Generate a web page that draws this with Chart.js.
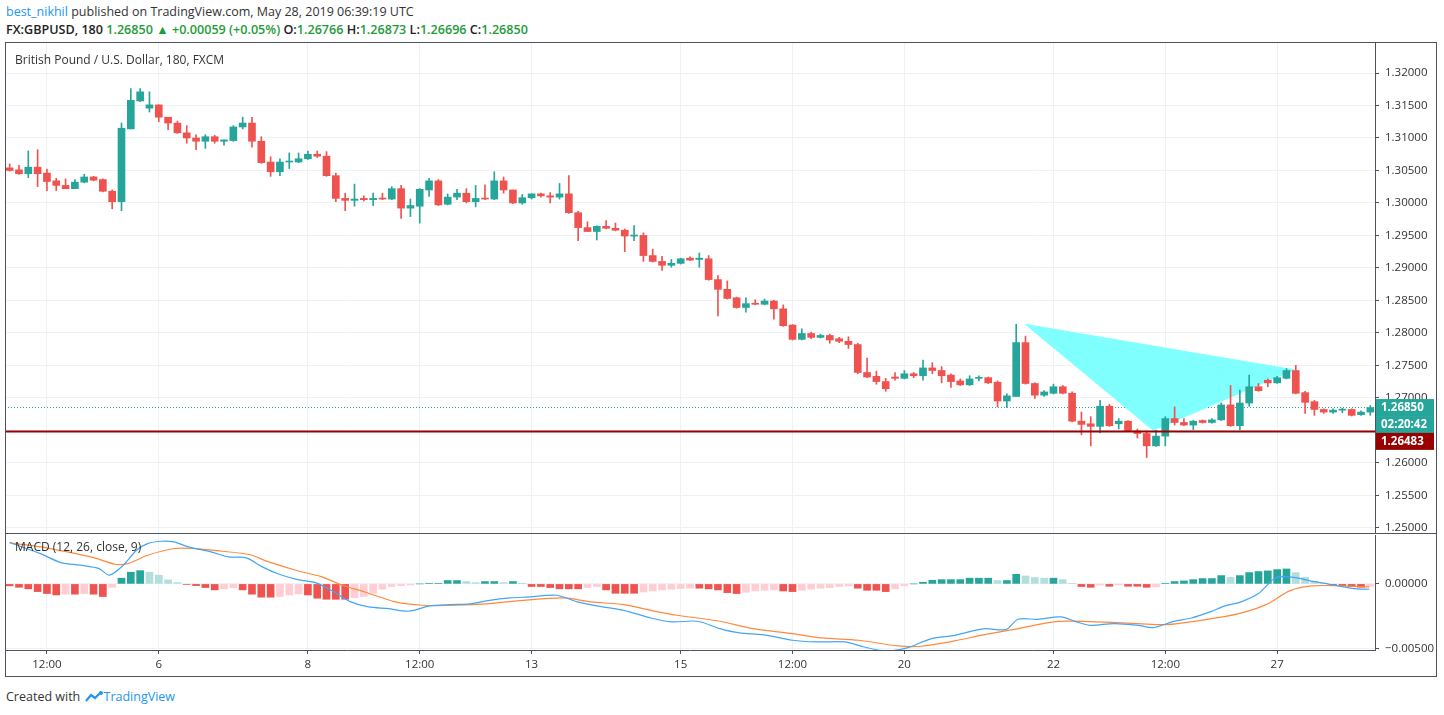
<!DOCTYPE html>
<html>
<head>
<meta charset="utf-8">
<script src="https://cdn.jsdelivr.net/npm/chart.js@4.4.1/dist/chart.umd.min.js"></script>
<style>
  body { margin: 0; width: 1444px; height: 715px; background: #fff; font-family: "Open Sans", Arial, sans-serif; position: relative; overflow: hidden; }
  #head1 { position: absolute; left: 6px; top: 3px; font-size: 12.5px; color: #333; }
  #head1 b { color: #2196f3; font-weight: normal; }
  #head2 { position: absolute; left: 6px; top: 21px; font-size: 12.6px; color: #222; font-weight: 600; }
  #head2 .g { color: #1e9c3a; }
  #frame { position: absolute; left: 5px; top: 42px; width: 1432px; height: 635px; border: 1px solid #50535e; box-sizing: border-box; }
  #sep { position: absolute; left: 5px; top: 533px; width: 1432px; height: 1px; background: #50535e; }
  #main { position: absolute; left: 5px; top: 42px; }
  #macd { position: absolute; left: 5px; top: 535px; }
  #foot { position: absolute; left: 6px; top: 688px; font-size: 12.5px; color: #333; }
  #foot span { color: #2196f3; }
</style>
</head>
<body>
<div id="head1"><b>best_nikhil</b> published on TradingView.com, May 28, 2019 06:39:19 UTC</div>
<div id="head2">FX:GBPUSD, 180 <span class="g">1.26850 ▲ +0.00059 (+0.05%)</span> O:<span class="g">1.26766</span> H:<span class="g">1.26873</span> L:<span class="g">1.26696</span> C:<span class="g">1.26850</span></div>
<canvas id="main" width="1433" height="492"></canvas>
<canvas id="macd" width="1433" height="143"></canvas>
<div id="frame"></div>
<div id="sep"></div>
<div id="foot">Created with <svg width="20" height="12" viewBox="0 0 20 12" style="vertical-align:-1px"><path d="M2 11 L7 5 L11 8 L17 2" stroke="#2196f3" stroke-width="2.2" fill="none"/><circle cx="17" cy="3" r="2" fill="#2196f3"/></svg><span>TradingView</span></div>
<script>
// 3h candles, GBPUSD
const opens = [
  1.3054,1.3051,1.3045,1.3055,1.3046,1.3034,1.3027,1.3022,1.3032,1.3040,
  1.3036,1.3018,1.3002,1.3114,1.3157,1.3146,1.3151,1.3132,1.3123,1.3108,
  1.3100,1.3095,1.3102,1.3095,1.3096,1.3117,1.3123,1.3095,1.3063,1.3048,
  1.3063,1.3063,1.3068,1.3075,1.3072,1.3042,1.3007,1.3004,1.3007,1.3005,
  1.3007,1.3006,1.3022,1.2992,1.2995,1.3020,1.3034,1.2998,1.3009,1.3015,
  1.3002,1.3007,1.3006,1.3034,1.3020,1.3000,1.3008,1.3014,1.3011,1.3009,
  1.3014,1.2985,1.2962,1.2956,1.2964,1.2961,1.2958,1.2949,1.2950,1.2919,
  1.2910,1.2904,1.2907,1.2915,1.2913,1.2914,1.2882,1.2867,1.2854,1.2839,
  1.2845,1.2844,1.2849,1.2837,1.2812,1.2790,1.2799,1.2793,1.2796,1.2791,
  1.2787,1.2782,1.2739,1.2733,1.2725,1.2732,1.2730,1.2737,1.2734,1.2746,
  1.2742,1.2735,1.2726,1.2720,1.2730,1.2731,1.2724,1.2695,1.2702,1.2785,
  1.2722,1.2704,1.2707,1.2717,1.2707,1.2664,1.2660,1.2656,1.2687,1.2660,
  1.2664,1.2649,1.2645,1.2626,1.2641,1.2668,1.2662,1.2658,1.2665,1.2662,
  1.2666,1.2689,1.2657,1.2692,1.2717,1.2727,1.2723,1.2730,1.2742,1.2708,
  1.2694,1.2682,1.2678,1.2681,1.2682,1.2674,1.2678
];
const highs = [
  1.3060,1.3058,1.3080,1.3082,1.3052,1.3038,1.3037,1.3036,1.3044,1.3041,
  1.3037,1.3020,1.3123,1.3176,1.3176,1.3171,1.3151,1.3132,1.3126,1.3119,
  1.3105,1.3105,1.3104,1.3097,1.3119,1.3132,1.3132,1.3102,1.3071,1.3068,
  1.3077,1.3077,1.3080,1.3080,1.3079,1.3046,1.3015,1.3029,1.3011,1.3015,
  1.3015,1.3025,1.3027,1.3006,1.3022,1.3038,1.3036,1.3014,1.3021,1.3022,
  1.3027,1.3028,1.3048,1.3040,1.3020,1.3013,1.3014,1.3015,1.3016,1.3030,
  1.3042,1.2987,1.2971,1.2965,1.2973,1.2969,1.2960,1.2965,1.2954,1.2929,
  1.2918,1.2913,1.2915,1.2917,1.2923,1.2919,1.2888,1.2880,1.2855,1.2854,
  1.2851,1.2852,1.2850,1.2843,1.2813,1.2806,1.2801,1.2798,1.2798,1.2793,
  1.2794,1.2784,1.2761,1.2741,1.2730,1.2739,1.2742,1.2739,1.2758,1.2754,
  1.2748,1.2737,1.2729,1.2734,1.2734,1.2732,1.2726,1.2706,1.2813,1.2795,
  1.2723,1.2711,1.2721,1.2719,1.2709,1.2678,1.2671,1.2696,1.2690,1.2668,
  1.2665,1.2652,1.2647,1.2650,1.2671,1.2686,1.2668,1.2665,1.2666,1.2668,
  1.2692,1.2719,1.2712,1.2735,1.2722,1.2729,1.2733,1.2745,1.2750,1.2710,
  1.2696,1.2683,1.2683,1.2684,1.2683,1.2680,1.2688
];
const lows = [
  1.3049,1.3044,1.3039,1.3025,1.3019,1.3019,1.3022,1.3022,1.3031,1.3034,
  1.3017,1.2991,1.2988,1.3114,1.3156,1.3140,1.3125,1.3113,1.3107,1.3092,
  1.3082,1.3084,1.3092,1.3089,1.3095,1.3114,1.3086,1.3061,1.3041,1.3042,
  1.3053,1.3062,1.3067,1.3070,1.3041,1.3002,1.2988,1.2995,1.3003,1.2996,
  1.3005,1.3005,1.2976,1.2979,1.2969,1.3010,1.2996,1.2997,1.3005,1.3000,
  1.2994,1.3005,1.3005,1.3015,1.2999,1.2998,1.3006,1.3009,1.3000,1.3006,
  1.2984,1.2942,1.2956,1.2943,1.2960,1.2957,1.2925,1.2942,1.2910,1.2909,
  1.2896,1.2901,1.2906,1.2911,1.2901,1.2881,1.2826,1.2852,1.2838,1.2832,
  1.2843,1.2843,1.2821,1.2810,1.2789,1.2789,1.2791,1.2792,1.2784,1.2785,
  1.2776,1.2737,1.2731,1.2721,1.2710,1.2727,1.2729,1.2731,1.2727,1.2737,
  1.2723,1.2716,1.2719,1.2719,1.2726,1.2722,1.2686,1.2685,1.2702,1.2721,
  1.2699,1.2702,1.2706,1.2706,1.2663,1.2643,1.2626,1.2646,1.2656,1.2652,
  1.2648,1.2638,1.2608,1.2625,1.2626,1.2658,1.2657,1.2651,1.2661,1.2661,
  1.2665,1.2656,1.2651,1.2687,1.2710,1.2717,1.2722,1.2729,1.2706,1.2676,
  1.2673,1.2676,1.2676,1.2677,1.2672,1.2673,1.2673
];
const closes = [
  1.3050,1.3045,1.3055,1.3045,1.3033,1.3027,1.3022,1.3032,1.3040,1.3035,
  1.3018,1.3002,1.3115,1.3158,1.3171,1.3151,1.3132,1.3123,1.3108,1.3100,
  1.3095,1.3102,1.3095,1.3097,1.3117,1.3123,1.3095,1.3062,1.3048,1.3063,
  1.3064,1.3068,1.3075,1.3072,1.3042,1.3007,1.3004,1.3006,1.3005,1.3007,
  1.3006,1.3022,1.2992,1.2996,1.3021,1.3034,1.2997,1.3009,1.3015,1.3002,
  1.3007,1.3006,1.3034,1.3020,1.3000,1.3008,1.3014,1.3011,1.3009,1.3014,
  1.2985,1.2962,1.2956,1.2964,1.2961,1.2958,1.2949,1.2950,1.2919,1.2910,
  1.2904,1.2907,1.2914,1.2912,1.2915,1.2882,1.2867,1.2853,1.2839,1.2845,
  1.2844,1.2849,1.2837,1.2811,1.2790,1.2799,1.2793,1.2796,1.2789,1.2787,
  1.2782,1.2739,1.2732,1.2725,1.2714,1.2730,1.2737,1.2734,1.2746,1.2742,
  1.2734,1.2725,1.2720,1.2729,1.2731,1.2723,1.2695,1.2703,1.2785,1.2722,
  1.2704,1.2709,1.2717,1.2707,1.2664,1.2659,1.2656,1.2687,1.2657,1.2664,
  1.2649,1.2645,1.2626,1.2641,1.2668,1.2662,1.2658,1.2664,1.2662,1.2666,
  1.2689,1.2657,1.2692,1.2717,1.2711,1.2723,1.2731,1.2742,1.2707,1.2693,
  1.2682,1.2678,1.2681,1.2682,1.2673,1.2678,1.2685
];

// time axis labels at candle index
const tickIdx = [4, 16, 32, 44, 56, 72, 84, 96, 112, 124, 136];
const tickLabels = ["12:00", "6", "8", "12:00", "13", "15", "12:00", "20", "22", "12:00", "27"];

// drawing: triangle (candle index, price), support line, last price
const triX = [109, 122.7, 137.8, 109];
const triY = [1.2813, 1.2650, 1.2743, 1.2813];
const supportLevel = 1.26483;
const lastPrice = 1.26850;

// MACD (12, 26, close, 9)
const macdX = [0,3.3,5.5,7.6,9.6,10.7,12.2,13.6,14.8,16.3,17.6,19.2,21.6,23.5,25.4,27.1,29,30.9,32.9,34.8,36.6,38.5,40.7,42.8,45.1,47.2,49.4,51.5,53.7,55.8,58.7,60.9,63,65.9,68.8,71,73.8,
  76.2,78.3,80.8,84,86.5,89.6,91.7,94,96.3,98.9,101.4,104.6,106.9,108.2,110.3,112.8,114.4,115.9,118.5,121.1,122.7,124.8,126.8,128.8,130.4,131.9,134,135.8,137.4,140.2,142.2,144.3,145.9];
const macdY = [0.00318,0.00233,0.00164,0.00144,0.00118,0.00067,0.00144,0.00259,0.00310,0.00328,0.00323,0.00285,0.00246,0.00208,0.00200,0.00131,0.00072,0.00033,0.00008,-0.00062,-0.00138,-0.00177,-0.00190,-0.00210,-0.00169,-0.00159,-0.00154,-0.00126,-0.00108,-0.00100,-0.00087,-0.00138,-0.00169,-0.00203,-0.00262,-0.00292,-0.00287,
  -0.00344,-0.00377,-0.00390,-0.00433,-0.00446,-0.00446,-0.00485,-0.00515,-0.00492,-0.00420,-0.00395,-0.00344,-0.00351,-0.00272,-0.00272,-0.00254,-0.00290,-0.00318,-0.00305,-0.00318,-0.00336,-0.00290,-0.00262,-0.00215,-0.00169,-0.00144,-0.00074,0.00046,0.00054,0.00015,-0.00010,-0.00036,-0.00041];
const signalX = [0,3.3,6.2,9.1,11.3,12.7,14.8,17.7,19.9,22.8,25.7,27.8,30.7,33.5,35.7,38.1,41.4,44.3,47.9,51.5,55.1,59.5,62.3,65.9,68.8,71.6,73.8,
  76.2,79.8,84,87.1,91.1,95.3,97.8,101.4,104.6,108.2,112.3,115.9,121.1,124.1,127.9,131.9,134.8,137.4,139.7,142.9,145.9];
const signalY = [0.00315,0.00285,0.00246,0.00200,0.00151,0.00156,0.00220,0.00272,0.00272,0.00251,0.00226,0.00169,0.00105,0.00054,-0.00010,-0.00062,-0.00138,-0.00164,-0.00164,-0.00151,-0.00126,-0.00108,-0.00138,-0.00159,-0.00203,-0.00241,-0.00262,
  -0.00287,-0.00344,-0.00382,-0.00415,-0.00433,-0.00477,-0.00479,-0.00438,-0.00390,-0.00344,-0.00290,-0.00290,-0.00305,-0.00313,-0.00279,-0.00228,-0.00159,-0.00052,-0.00015,-0.00015,-0.00023];
const hist = [
  -0.00015,-0.00026,-0.00038,-0.00059,-0.00074,-0.00085,-0.00079,-0.00079,-0.00074,-0.00079,-0.00097,-0.00026,
  0.00044,0.00090,0.00102,0.00090,0.00067,0.00031,0.00010,
  -0.00003,-0.00013,-0.00028,-0.00046,-0.00038,-0.00028,-0.00046,-0.00079,-0.00102,-0.00102,-0.00097,-0.00085,-0.00077,-0.00085,-0.00110,-0.00118,-0.00118,-0.00118,-0.00105,-0.00097,-0.00072,-0.00041,-0.00020,-0.00013,-0.00008,0.00000,
  0.00005,0.00005,0.00026,0.00026,0.00018,0.00010,0.00018,0.00018,0.00010,0.00018,0.00002,
  -0.00020,-0.00020,-0.00028,-0.00038,-0.00038,-0.00038,-0.00028,-0.00020,-0.00046,-0.00072,-0.00072,-0.00072,-0.00062,-0.00054,-0.00046,-0.00041,-0.00036,-0.00033,
  -0.00033,-0.00038,-0.00046,-0.00067,-0.00074,-0.00064,-0.00054,-0.00049,-0.00046,-0.00054,
  -0.00059,-0.00049,-0.00041,-0.00033,-0.00028,-0.00020,-0.00015,-0.00033,-0.00049,-0.00049,
  -0.00059,-0.00038,-0.00015,0.00000,0.00013,0.00028,0.00033,0.00033,0.00033,0.00044,
  0.00044,0.00044,0.00026,0.00026,0.00074,0.00061,0.00049,0.00044,0.00044,0.00033,
  0.00003,-0.00020,-0.00026,-0.00010,-0.00018,-0.00008,-0.00018,-0.00018,-0.00026,-0.00023,
  0.00005,0.00018,0.00023,0.00033,0.00041,0.00041,0.00064,0.00051,0.00064,0.00087,
  0.00095,0.00100,0.00110,0.00115,0.00087,0.00051,0.00018,0.00005,-0.00008,-0.00013,
  -0.00020,-0.00026,-0.00018
];

const UP = "#26a69a", DOWN = "#ef5350";
const GRID = "#eef1f6";
const TICK_FONT = { family: "Open Sans", size: 11.5 };
const X_MIN = -0.5, X_MAX = opens.length - 0.5;

const candleColor = i => closes[i] >= opens[i] ? UP : DOWN;

// kill the half-label padding chart.js adds to the y axis ends
const noPad = s => { s.width = 63; s.paddingTop = 0; s.paddingBottom = 0; };

const xScale = (showTicks) => ({
  type: "linear", min: X_MIN, max: X_MAX, offset: false,
  afterBuildTicks: s => { s.ticks = tickIdx.map(v => ({ value: v })); },
  ticks: { display: showTicks, color: "#333", font: TICK_FONT, padding: 4,
           callback: v => tickLabels[tickIdx.indexOf(v)] },
  grid: { color: GRID, offset: false, drawTicks: showTicks, tickLength: 4, tickColor: "#50535e" },
  border: { display: showTicks, color: "#50535e" },
});

// price labels on the right axis
const priceTags = {
  id: "priceTags",
  afterDraw(chart) {
    const { ctx } = chart;
    const y = chart.scales.y;
    const x0 = chart.chartArea.right + 1;
    ctx.save();
    ctx.font = "bold 11.5px 'Open Sans'";
    ctx.textBaseline = "middle";
    const tag = (py, bg, txt) => {
      ctx.fillStyle = bg;
      ctx.fillRect(x0, py - 8.5, 58, 17);
      ctx.fillStyle = "#fff";
      ctx.fillText(txt, x0 + 5, py);
    };
    const yl = y.getPixelForValue(lastPrice);
    tag(yl, UP, "1.26850");
    tag(yl + 17, UP, "02:20:42");
    tag(y.getPixelForValue(supportLevel) + 10, "#990000", "1.26483");
    ctx.fillStyle = "#333";
    ctx.font = "12px 'Open Sans'";
    ctx.textBaseline = "top";
    ctx.fillText("British Pound / U.S. Dollar, 180, FXCM", 10, 13);
    ctx.restore();
  }
};

new Chart(document.getElementById("main"), {
  data: {
    datasets: [
      { type: "bar", label: "wick", order: 2,
        data: opens.map((o, i) => ({ x: i, y: [lows[i], highs[i]] })),
        backgroundColor: opens.map((o, i) => candleColor(i)),
        barThickness: 1, grouped: false },
      { type: "bar", label: "body", order: 1,
        data: opens.map((o, i) => ({ x: i, y: [o, closes[i]] })),
        backgroundColor: opens.map((o, i) => candleColor(i)),
        barThickness: 7, minBarLength: 1, grouped: false },
      { type: "line", label: "triangle", order: 3,
        data: triX.map((x, i) => ({ x, y: triY[i] })),
        borderColor: "#80ffff", borderWidth: 1, backgroundColor: "#80ffff",
        fill: "shape", pointRadius: 0, tension: 0 },
      { type: "line", label: "support", order: 0,
        data: [{ x: X_MIN, y: supportLevel }, { x: X_MAX, y: supportLevel }],
        borderColor: "#990000", borderWidth: 2, pointRadius: 0 },
      { type: "line", label: "last", order: 4,
        data: [{ x: X_MIN, y: lastPrice }, { x: X_MAX, y: lastPrice }],
        borderColor: "#26a69a", borderWidth: 1, borderDash: [1, 2], pointRadius: 0 },
    ]
  },
  options: {
    responsive: false, animation: false,
    layout: { padding: 0 },
    plugins: { legend: { display: false }, tooltip: { enabled: false } },
    scales: {
      x: { ...xScale(false), afterFit: s => { s.height = 0; s.paddingLeft = 0; s.paddingRight = 0; } },
      y: {
        position: "right", min: 1.24903, max: 1.32478,
        afterBuildTicks: s => {
          const t = [];
          for (let k = 0; k <= 14; k++) t.push({ value: 1.25 + k * 0.005 });
          s.ticks = t;
        },
        afterFit: noPad,
        ticks: { color: "#333", font: TICK_FONT, padding: 6, callback: v => v.toFixed(5) },
        grid: { color: GRID, drawTicks: true, tickLength: 4, tickColor: "#50535e" },
        border: { color: "#50535e" },
      }
    }
  },
  plugins: [priceTags]
});

const macdTitle = {
  id: "macdTitle",
  afterDraw(chart) {
    const { ctx } = chart;
    ctx.save();
    ctx.fillStyle = "#333";
    ctx.font = "12px 'Open Sans'";
    ctx.textBaseline = "top";
    ctx.fillText("MACD (12, 26, close, 9)", 10, 7);
    ctx.restore();
  }
};

new Chart(document.getElementById("macd"), {
  data: {
    datasets: [
      { type: "line", label: "MACD", order: 0,
        data: macdX.map((x, i) => ({ x, y: macdY[i] })),
        borderColor: "#42a5f5", borderWidth: 1.2, pointRadius: 0, tension: 0.3 },
      { type: "line", label: "Signal", order: 1,
        data: signalX.map((x, i) => ({ x, y: signalY[i] })),
        borderColor: "#ff8a3d", borderWidth: 1.2, pointRadius: 0, tension: 0.3 },
      { type: "bar", label: "Histogram", order: 2,
        data: hist.map((h, i) => ({ x: i, y: h })),
        backgroundColor: hist.map((h, i) => {
          const prev = i > 0 ? hist[i - 1] : h;
          if (h >= 0) return h >= prev ? "#26a69a" : "#b2dfdb";
          return h <= prev ? "#ef5350" : "#ffcdd2";
        }),
        barThickness: 7 },
    ]
  },
  options: {
    responsive: false, animation: false,
    layout: { padding: 0 },
    plugins: { legend: { display: false }, tooltip: { enabled: false } },
    scales: {
      x: { ...xScale(true), afterFit: s => { s.height = 28; s.paddingLeft = 0; s.paddingRight = 0; } },
      y: {
        position: "right", min: -0.00508, max: 0.00376,
        afterBuildTicks: s => { s.ticks = [{ value: -0.005 }, { value: 0 }]; },
        afterFit: noPad,
        ticks: { color: "#333", font: TICK_FONT, padding: 6,
                 callback: v => v < 0 ? "\u2212" + Math.abs(v).toFixed(5) : "0.00000" },
        grid: { color: GRID, drawTicks: true, tickLength: 4, tickColor: "#50535e" },
        border: { color: "#50535e" },
      }
    }
  },
  plugins: [macdTitle]
});
</script>
</body>
</html>
